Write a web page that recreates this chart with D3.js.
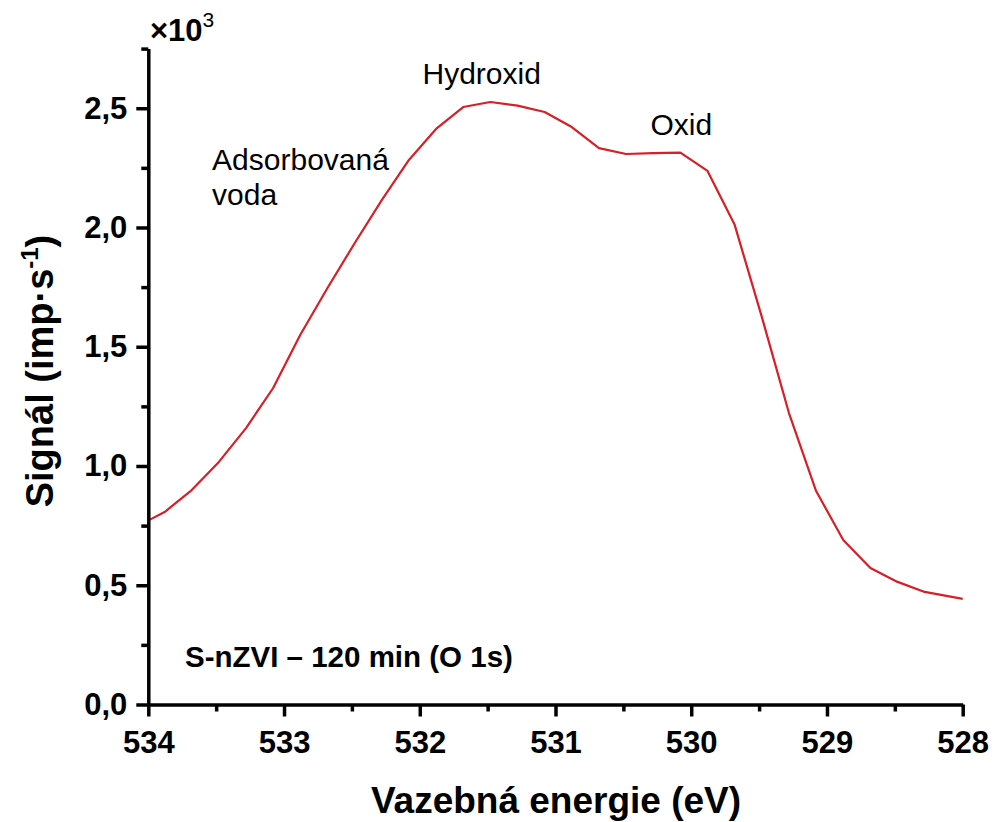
<!DOCTYPE html>
<html>
<head>
<meta charset="utf-8">
<script src="https://cdn.jsdelivr.net/npm/d3@7"></script>
<style>
  html, body { margin: 0; padding: 0; background: #fff; }
  svg { display: block; font-family: "Liberation Sans", Arial, sans-serif; }
</style>
</head>
<body>
<svg id="chart" width="994" height="822"></svg>
<script>
// O 1s spectrum of S-nZVI after 120 min, binding energy in eV, signal in 10^3 counts/s
const energy = [534.08, 533.88, 533.68, 533.48, 533.28, 533.08, 532.88, 532.68, 532.48, 532.28,
                532.08, 531.88, 531.68, 531.48, 531.28, 531.08, 530.88, 530.68, 530.48, 530.28,
                530.08, 529.88, 529.68, 529.48, 529.28, 529.08, 528.88, 528.68, 528.48, 528.28,
                528.08, 527.88];
const signal = [0.748, 0.807, 0.899, 1.017, 1.159, 1.327, 1.55, 1.746, 1.934, 2.115, 2.283,
                2.413, 2.505, 2.526, 2.511, 2.484, 2.421, 2.333, 2.308, 2.312, 2.314, 2.237,
                2.011, 1.625, 1.222, 0.895, 0.690, 0.572, 0.514, 0.472, 0.451, 0.43];

const xTicks = [534, 533, 532, 531, 530, 529, 528];
const xMinorTicks = [533.5, 532.5, 531.5, 530.5, 529.5, 528.5];
const yTicks = [0, 0.5, 1.0, 1.5, 2.0, 2.5];
const yMinorTicks = [0.25, 0.75, 1.25, 1.75, 2.25, 2.75];

const peakLabels = [
  { lines: ["Adsorbovaná", "voda"], e: 533.53, v: 2.24 },
  { lines: ["Hydroxid"], e: 531.98, v: 2.6 },
  { lines: ["Oxid"], e: 530.30, v: 2.388 }
];
const sampleLabel = "S-nZVI – 120 min (O 1s)";

const svg = d3.select("#chart");
const plotLeft = 148.3, plotRight = 962.7, plotTop = 48.6, plotBottom = 704.5;

const x = d3.scaleLinear().domain([534, 528]).range([plotLeft, plotRight]);
const y = d3.scaleLinear().domain([0, 2.75]).range([plotBottom, plotTop]);

const fmt = d => d.toFixed(1).replace(".", ",");

// clip path for the curve
svg.append("defs").append("clipPath").attr("id", "plotclip")
  .append("rect").attr("x", plotLeft).attr("y", plotTop - 10)
  .attr("width", plotRight - plotLeft).attr("height", plotBottom - plotTop + 10);

// spectrum line
const line = d3.line().x((d, i) => x(energy[i])).y(d => y(d));
svg.append("path")
  .datum(signal)
  .attr("clip-path", "url(#plotclip)")
  .attr("fill", "none")
  .attr("stroke", "#d81e26")
  .attr("stroke-width", 2.2)
  .attr("stroke-linejoin", "round")
  .attr("d", line);

// x axis
const gx = svg.append("g").attr("transform", `translate(0,${plotBottom})`);
gx.call(d3.axisBottom(x).tickValues(xTicks).tickSize(12).tickSizeOuter(0).tickPadding(14).tickFormat(d3.format("d")));
gx.append("g").call(d3.axisBottom(x).tickValues(xMinorTicks).tickSize(7).tickSizeOuter(0).tickFormat(""))
  .select(".domain").remove();

// y axis
const gy = svg.append("g").attr("transform", `translate(${plotLeft},0)`);
gy.call(d3.axisLeft(y).tickValues(yTicks).tickSize(12).tickSizeOuter(0).tickPadding(9).tickFormat(fmt));
gy.append("g").call(d3.axisLeft(y).tickValues(yMinorTicks).tickSize(7).tickSizeOuter(0).tickFormat(""))
  .select(".domain").remove();

svg.selectAll(".domain").attr("stroke", "#000").attr("stroke-width", 3.5);
svg.selectAll(".tick line").attr("stroke", "#000").attr("stroke-width", 3.5);
svg.selectAll(".tick text")
  .attr("fill", "#000")
  .attr("font-family", "'Liberation Sans', Arial, sans-serif")
  .attr("font-size", 31)
  .attr("font-weight", "bold");

// axis titles
svg.append("text")
  .attr("x", 556).attr("y", 813)
  .attr("text-anchor", "middle")
  .attr("font-size", 37).attr("font-weight", "bold")
  .text("Vazebná energie (eV)");

const yt = svg.append("text")
  .attr("transform", `translate(53,371) rotate(-90)`)
  .attr("text-anchor", "middle")
  .attr("font-size", 38).attr("font-weight", "bold");
yt.append("tspan").text("Signál (imp·s");
yt.append("tspan").attr("font-size", 24).attr("dy", -15).text("-1");
yt.append("tspan").attr("dy", 15).text(")");

// multiplier
const mult = svg.append("text")
  .attr("x", 150).attr("y", 41)
  .attr("font-size", 31).attr("font-weight", "bold");
mult.append("tspan").text("×10");
mult.append("tspan").attr("font-size", 21).attr("dy", -14).attr("font-weight", "normal").text("3");

// peak annotations
peakLabels.forEach(p => {
  const t = svg.append("text")
    .attr("x", x(p.e)).attr("y", y(p.v))
    .attr("font-size", 30).attr("fill", "#000");
  p.lines.forEach((s, i) => {
    t.append("tspan").attr("x", x(p.e)).attr("dy", i === 0 ? 0 : 35).text(s);
  });
});

// sample label
svg.append("text")
  .attr("x", 185).attr("y", 667)
  .attr("font-size", 29.5).attr("font-weight", "bold")
  .text(sampleLabel);
</script>
</body>
</html>
